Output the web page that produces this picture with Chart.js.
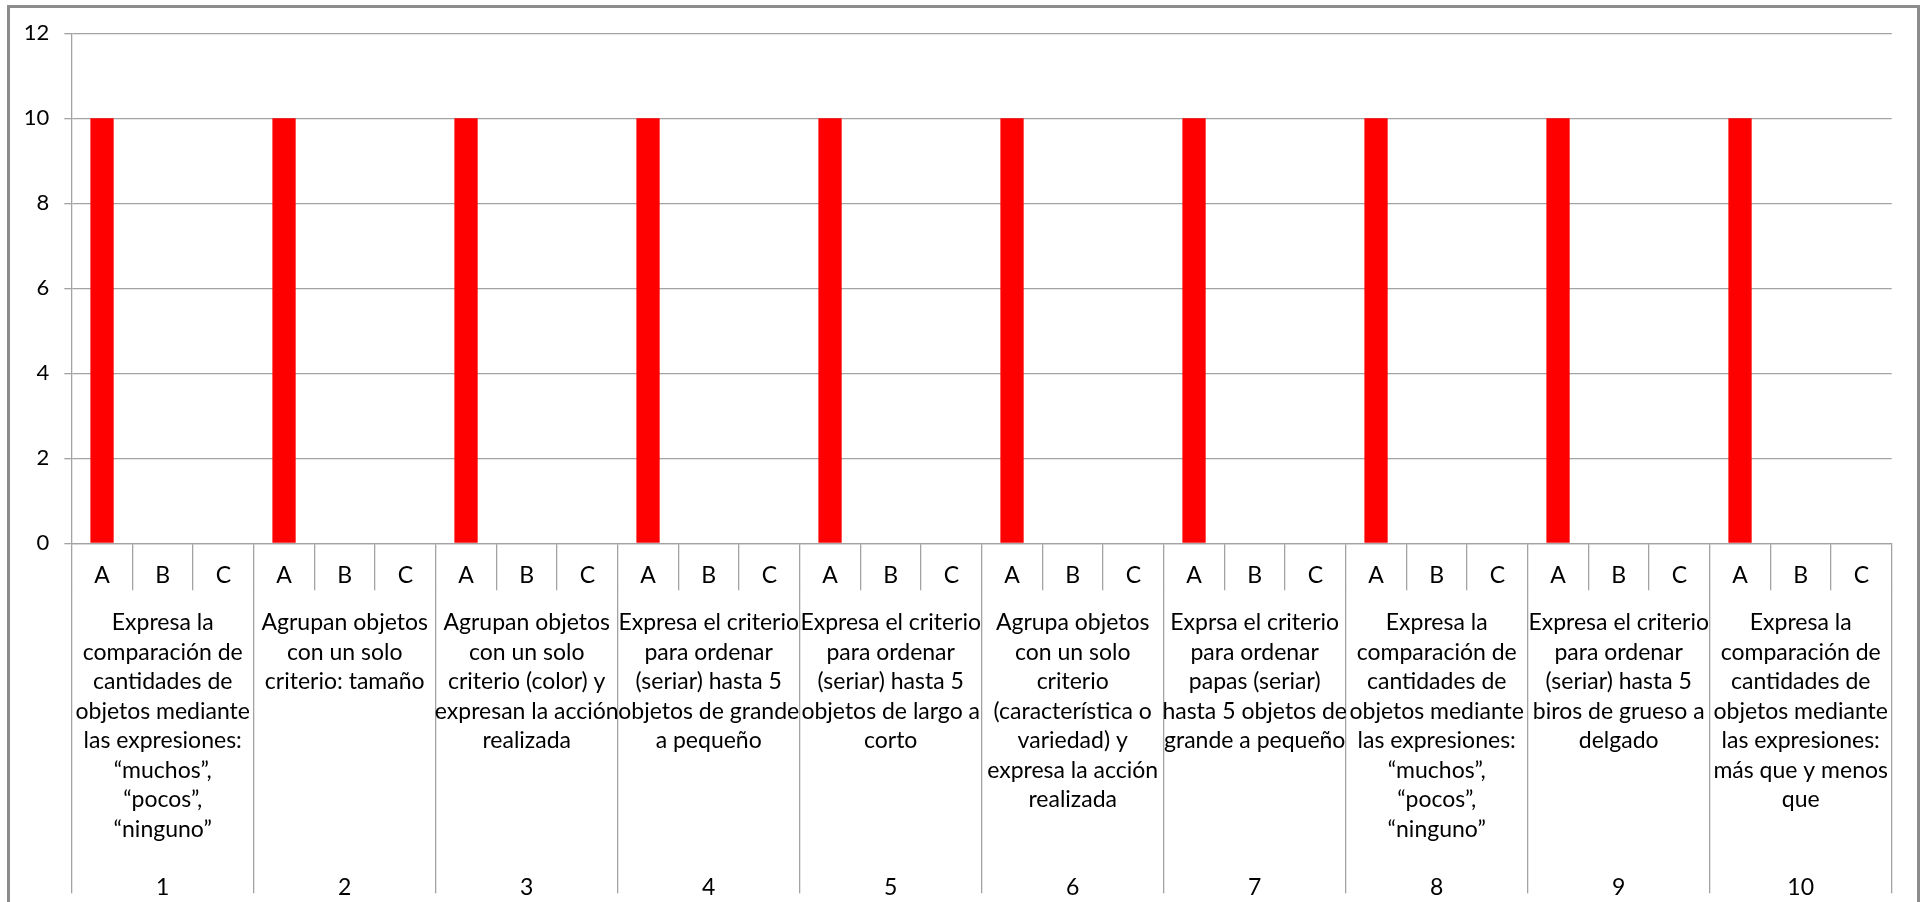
<!DOCTYPE html>
<html>
<head>
<meta charset="utf-8">
<script src="https://cdn.jsdelivr.net/npm/chart.js@4"></script>
<style>
    html, body { margin: 0; padding: 0; background: #fff; overflow: hidden; }
    #wrap { position: absolute; left: 0; top: 0; width: 1928px; height: 902px; }
    #frame {
        position: absolute; left: 7px; top: 5px; width: 1913px; height: 1000px;
        border: 3px solid #8c8c8c; box-sizing: border-box; pointer-events: none;
    }
</style>
</head>
<body>
<div id="wrap"><canvas id="chart"></canvas></div>
<div id="frame"></div>
<script>
// start: data
const groupNumbers = ['1', '2', '3', '4', '5', '6', '7', '8', '9', '10'];

const groupTexts = [
    ['Expresa la', 'comparación de', 'cantidades de', 'objetos mediante', 'las expresiones:', '“muchos”,', '“pocos”,', '“ninguno”'],
    ['Agrupan objetos', 'con un solo', 'criterio: tamaño'],
    ['Agrupan objetos', 'con un solo', 'criterio (color) y', 'expresan la acción', 'realizada'],
    ['Expresa el criterio', 'para ordenar', '(seriar) hasta 5', 'objetos de grande', 'a pequeño'],
    ['Expresa el criterio', 'para ordenar', '(seriar) hasta 5', 'objetos de largo a', 'corto'],
    ['Agrupa objetos', 'con un solo', 'criterio', '(característica o', 'variedad) y', 'expresa la acción', 'realizada'],
    ['Exprsa el criterio', 'para ordenar', 'papas (seriar)', 'hasta 5 objetos de', 'grande a pequeño'],
    ['Expresa la', 'comparación de', 'cantidades de', 'objetos mediante', 'las expresiones:', '“muchos”,', '“pocos”,', '“ninguno”'],
    ['Expresa el criterio', 'para ordenar', '(seriar) hasta 5', 'biros de grueso a', 'delgado'],
    ['Expresa la', 'comparación de', 'cantidades de', 'objetos mediante', 'las expresiones:', 'más que y menos', 'que'],
];

const subLabels = ['A', 'B', 'C'];

const valuesA = [10, 10, 10, 10, 10, 10, 10, 10, 10, 10];
const valuesB = [0, 0, 0, 0, 0, 0, 0, 0, 0, 0];
const valuesC = [0, 0, 0, 0, 0, 0, 0, 0, 0, 0];

const yTicks = [0, 2, 4, 6, 8, 10, 12];
// end: data

const labels = groupNumbers.flatMap(() => subLabels);
const values = groupNumbers.flatMap((_, i) => [valuesA[i], valuesB[i], valuesC[i]]);

const gridColor = '#a3a3a3';
const font = 'Lato';

new Chart(document.getElementById('chart'), {
    type: 'bar',
    data: {
        labels: labels,
        datasets: [{
            data: values,
            backgroundColor: '#ff0000',
            borderWidth: 0,
            categoryPercentage: 1,
            barPercentage: 0.384,
        }]
    },
    options: {
        responsive: true,
        maintainAspectRatio: false,
        animation: false,
        layout: { padding: { top: 33.3, right: 36.3, left: 0, bottom: 0 } },
        plugins: {
            legend: { display: false },
            tooltip: { enabled: false }
        },
        scales: {
            y: {
                min: yTicks[0],
                max: yTicks[yTicks.length - 1],
                afterBuildTicks: (scale) => { scale.ticks = yTicks.map(v => ({ value: v })); },
                ticks: { color: '#000', padding: 15, font: { family: font, size: 22 } },
                grid: { color: gridColor, lineWidth: 1.3, tickLength: 7.4 },
                border: { color: gridColor, width: 1.3 },
                afterFit: (scale) => { scale.width = 71.7; }
            },
            x: {
                weight: 1,
                offset: true,
                grid: { offset: true, drawOnChartArea: false, color: gridColor, lineWidth: 1.3, tickLength: 47 },
                border: { color: gridColor, width: 1.3 },
                ticks: {
                    color: '#000', autoSkip: false, maxRotation: 0, minRotation: 0, padding: -28.7,
                    font: { family: font, size: 23, lineHeight: 1.25 }
                },
                afterFit: (scale) => { scale.height = 47; }
            },
            groups: {
                type: 'category',
                position: 'bottom',
                weight: 2,
                labels: groupTexts,
                offset: true,
                grid: { offset: true, drawOnChartArea: false, color: gridColor, lineWidth: 1.3, tickLength: 303 },
                border: { display: false },
                ticks: {
                    color: '#000', autoSkip: false, maxRotation: 0, minRotation: 0, padding: -285.4,
                    font: { family: font, size: 23, lineHeight: 29.5 / 23 }
                },
                afterFit: (scale) => { scale.height = 265; }
            },
            numbers: {
                type: 'category',
                position: 'bottom',
                weight: 3,
                labels: groupNumbers,
                offset: true,
                grid: { display: false },
                border: { display: false },
                ticks: {
                    color: '#000', autoSkip: false, maxRotation: 0, minRotation: 0, padding: 10.3,
                    font: { family: font, size: 23, lineHeight: 1.25 }
                },
                afterFit: (scale) => { scale.height = 46.7; }
            }
        }
    }
})
</script>
</body>
</html>
